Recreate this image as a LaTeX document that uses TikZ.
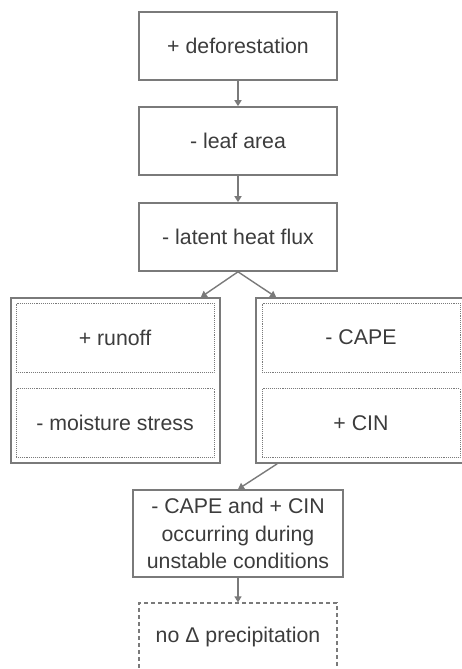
\documentclass[tikz,border=0pt]{standalone}
\usepackage{fontspec}
\setmainfont{Liberation Sans}
\usetikzlibrary{arrows.meta}
\definecolor{boxgray}{HTML}{7A7A7A}
\definecolor{textgray}{HTML}{3C3C3C}
\begin{document}
\begin{tikzpicture}[x=1pt, y=-1pt,
  every node/.style={text=textgray, font=\fontsize{21.3}{27.5}\selectfont, align=center, inner sep=0pt},
  effect/.style={shape=rectangle, draw=boxgray, line width=1.6pt, minimum width=198pt, minimum height=68pt},
  group/.style={shape=rectangle, draw=boxgray, line width=1.6pt, minimum width=209pt, minimum height=165pt},
  sub/.style={shape=rectangle, draw=boxgray, densely dotted, line width=0.9pt, minimum width=198pt, minimum height=69pt},
  outcome/.style={shape=rectangle, draw=boxgray, dashed, dash pattern=on 4pt off 3pt, line width=1.2pt, minimum width=198pt, minimum height=68pt},
  flow/.style={-{Triangle[width=7pt,length=6pt]}, draw=boxgray, line width=1.4pt}]
\useasboundingbox (0,0) rectangle (462,669);
\node[effect] (defor) at (238,46) {+ deforestation};
\node[effect] (leaf) at (238,141) {- leaf area};
\node[effect] (latent) at (238,237) {- latent heat flux};
\node[group] (landgrp) at (115.5,380.5) {};
\node[sub] (runoff) at (115,337.5) {+ runoff};
\node[sub] (moist) at (115,423) {- moisture stress};
\node[group] (atmgrp) at (360.5,380.5) {};
\node[sub] (cape) at (361,337.5) {- CAPE};
\node[sub] (cin) at (361,423) {+ CIN};
\node[effect, minimum width=210pt, minimum height=87pt] (unstable) at (238,533.5) {- CAPE and + CIN\\occurring during\\unstable conditions};
\node[outcome] (precip) at (238,637) {no Δ precipitation};
\path (defor) edge [flow] (leaf);
\path (leaf) edge [flow] (latent);
\path (latent.south) edge [flow] ([xshift=-20pt]landgrp.north east);
\path (latent.south) edge [flow] ([xshift=21pt]atmgrp.north west);
\path ([xshift=22pt]atmgrp.south west) edge [flow] (unstable.north);
\path (unstable) edge [flow] (precip);
\end{tikzpicture}
\end{document}
